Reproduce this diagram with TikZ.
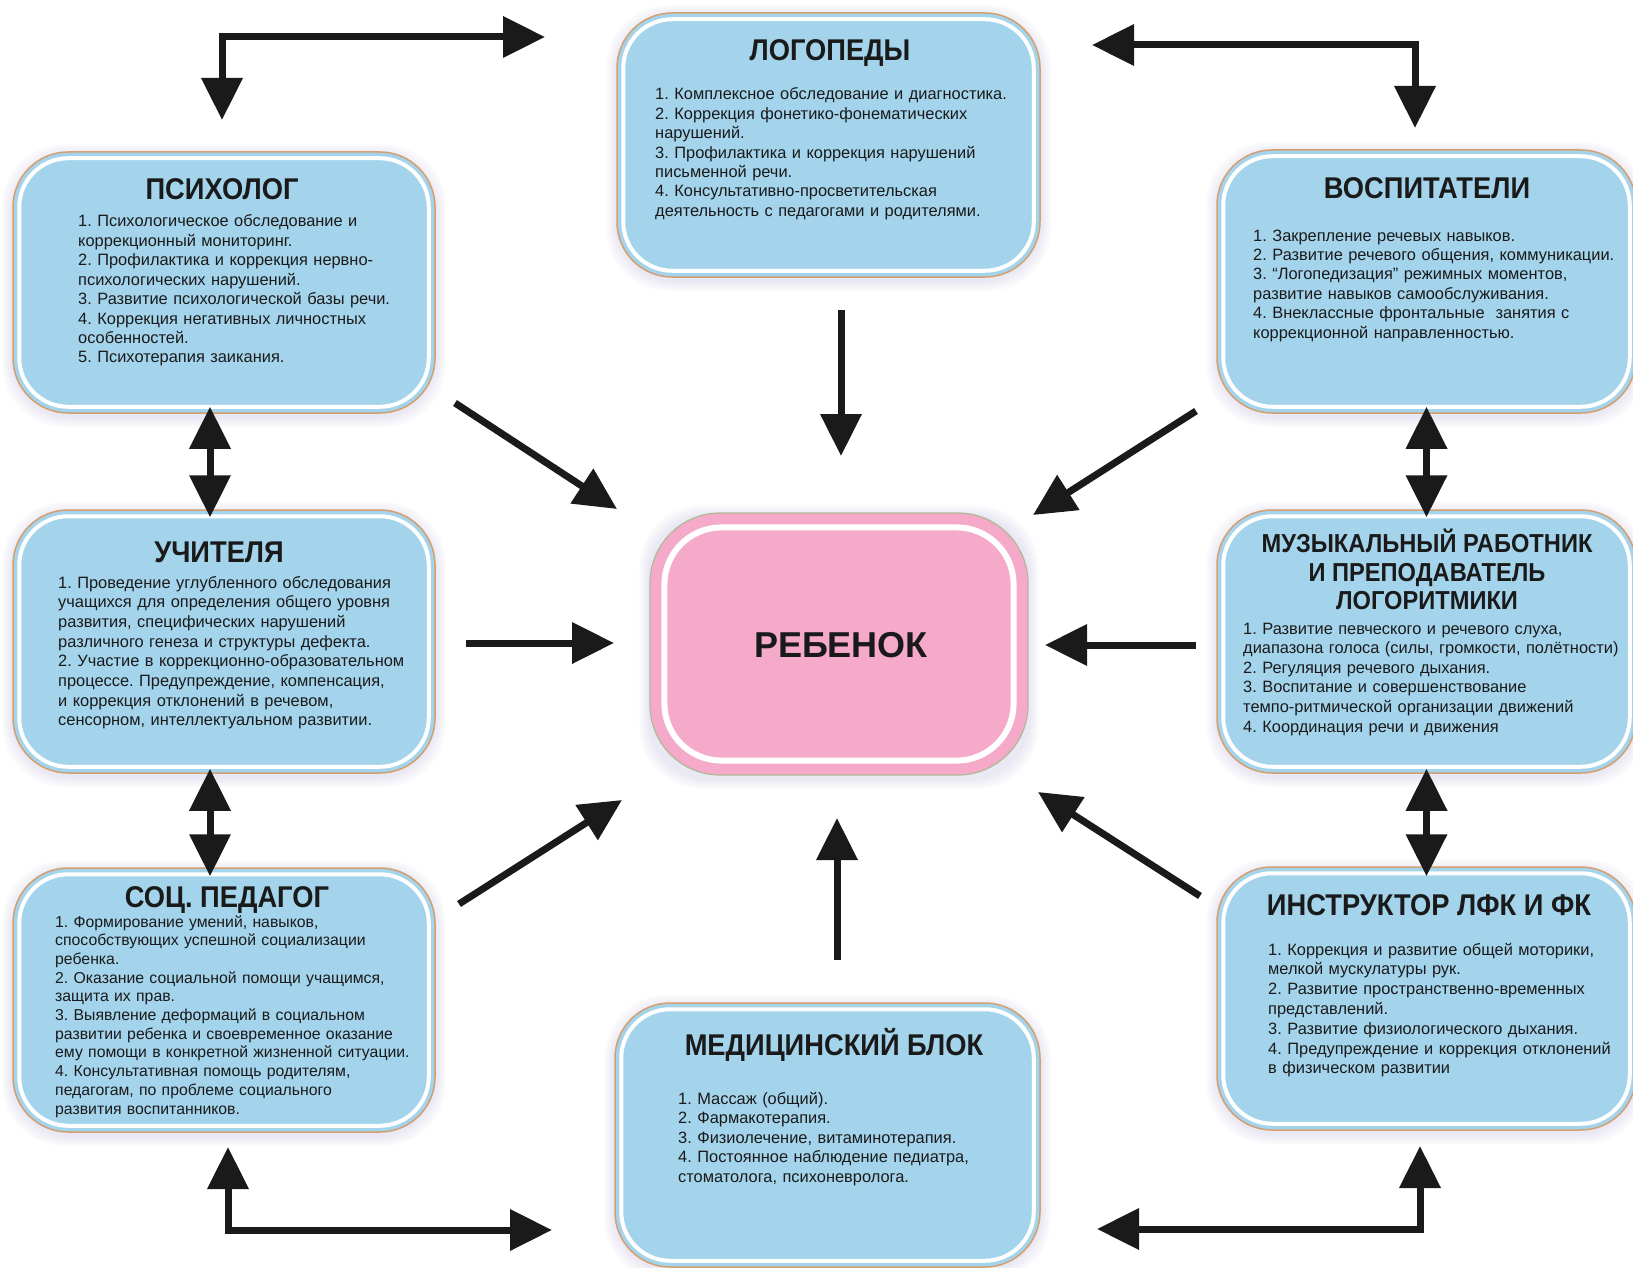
\documentclass[tikz,border=0pt]{standalone}
\usepackage{fontspec}
\setmainfont{Liberation Sans}
\newfontfamily\titlefont[FakeStretch=0.91]{Liberation Sans}
\usetikzlibrary{arrows.meta}
\pgfdeclarelayer{bg}
\pgfsetlayers{bg,main}
\frenchspacing
\definecolor{boxblue}{RGB}{164,212,236}
\definecolor{boxedge}{RGB}{212,160,112}
\definecolor{kidpink}{RGB}{244,170,200}
\definecolor{kidedge}{RGB}{175,185,150}
\definecolor{glowc}{RGB}{185,180,215}
\definecolor{ink}{RGB}{26,26,26}
\tikzset{
 bluebox/.style={draw=boxedge, line width=1.5pt, fill=boxblue, rounded corners=55pt, inner sep=0pt},
 innerline/.style={draw=white, line width=4pt, rounded corners=49pt},
 kidbox/.style={draw=kidedge, line width=1.2pt, fill=kidpink, rounded corners=70pt, inner sep=0pt},
 kidline/.style={draw=white, line width=6pt, rounded corners=57pt},
 ttl/.style={font=\titlefont\bfseries\fontsize{30}{30}\selectfont, text=ink, anchor=base, inner sep=0pt},
 mttl/.style={font=\titlefont\bfseries\fontsize{26}{26}\selectfont, text=ink, anchor=base, inner sep=0pt},
 body/.style={font=\fontsize{16.4}{19.4}\selectfont, text=ink, anchor=base west, inner sep=0pt, text width=480pt, align=left},
 arr/.style={draw=ink, line width=7pt, -{Triangle[length=42pt,width=40pt]}},
 dbl/.style={draw=ink, line width=7pt, line join=miter, {Triangle[length=42pt,width=40pt]}-{Triangle[length=42pt,width=40pt]}},
}
\begin{document}
\begin{tikzpicture}[x=1pt,y=-1pt]
\useasboundingbox (0,0) rectangle (1633,1268);
% boxes
\node[bluebox, minimum width=422pt, minimum height=261pt] (psy) at (224,282.5) {};
\node[bluebox, minimum width=423pt, minimum height=264pt] (logo) at (828.5,145) {};
\node[bluebox, minimum width=419pt, minimum height=263pt] (vosp) at (1426.5,281.5) {};
\node[bluebox, minimum width=422pt, minimum height=263pt] (tch) at (224,641.5) {};
\node[bluebox, minimum width=419pt, minimum height=263pt] (muz) at (1426.5,641.5) {};
\node[bluebox, minimum width=422pt, minimum height=264pt] (soc) at (224,1000) {};
\node[bluebox, minimum width=425pt, minimum height=264pt] (med) at (827.5,1135) {};
\node[bluebox, minimum width=419pt, minimum height=263pt] (ins) at (1426.5,998.5) {};
\node[kidbox, minimum width=378pt, minimum height=262pt] (kid) at (839,644) {};
% glow behind
\begin{pgfonlayer}{bg}
\fill[white] (0,0) rectangle (1633,1268);
\foreach \n in {psy,logo,vosp,tch,muz,soc,med,ins,kid}{
  \foreach \d in {2,4,6,8,10}{
    \fill[glowc, opacity=0.06, rounded corners=62pt] ([shift={(-\d,-\d+3)}]\n.north west) rectangle ([shift={(\d,\d+3)}]\n.south east);
  }
}
\end{pgfonlayer}
% inner white lines
\foreach \n in {psy,logo,vosp,tch,muz,soc,med,ins}{
  \draw[innerline] ([shift={(7,7)}]\n.north west) rectangle ([shift={(-7,-7)}]\n.south east);
}
\draw[kidline] ([shift={(15,15)}]kid.north west) rectangle ([shift={(-15,-15)}]kid.south east);
% texts
\node[ttl] (psyT) at (222,200) {ПСИХОЛОГ};
\node[body] (psyB) at (78,227) {1. Психологическое обследование и\\
коррекционный мониторинг.\\
2. Профилактика и коррекция нервно-\\
психологических нарушений.\\
3. Развитие психологической базы речи.\\
4. Коррекция негативных личностных\\
особенностей.\\
5. Психотерапия заикания.};
\node[ttl] (logoT) at (830,61) {ЛОГОПЕДЫ};
\node[body] (logoB) at (655,100) {1. Комплексное обследование и диагностика.\\
2. Коррекция фонетико-фонематических\\
нарушений.\\
3. Профилактика и коррекция нарушений\\
письменной речи.\\
4. Консультативно-просветительская\\
деятельность с педагогами и родителями.};
\node[ttl] (vospT) at (1427,199) {ВОСПИТАТЕЛИ};
\node[body] (vospB) at (1253,241) {1. Закрепление речевых навыков.\\
2. Развитие речевого общения, коммуникации.\\
3. “Логопедизация” режимных моментов,\\
развитие навыков самообслуживания.\\
4. Внеклассные фронтальные\ \ занятия с\\
коррекционной направленностью.};
\node[ttl] (tchT) at (219,562) {УЧИТЕЛЯ};
\node[body, font=\fontsize{16.4}{19.7}\selectfont] (tchB) at (58,588) {1. Проведение углубленного обследования\\
учащихся для определения общего уровня\\
развития, специфических нарушений\\
различного генеза и структуры дефекта.\\
2. Участие в коррекционно-образовательном\\
процессе. Предупреждение, компенсация,\\
и коррекция отклонений в речевом,\\
сенсорном, интеллектуальном развитии.};
\node[mttl] (muzT1) at (1427,552) {МУЗЫКАЛЬНЫЙ РАБОТНИК};
\node[mttl] (muzT2) at (1427,581) {И ПРЕПОДАВАТЕЛЬ};
\node[mttl] (muzT3) at (1427,609) {ЛОГОРИТМИКИ};
\node[body, font=\fontsize{16.4}{19.6}\selectfont] (muzB) at (1243,634) {1. Развитие певческого и речевого слуха,\\
диапазона голоса (силы, громкости, полётности)\\
2. Регуляция речевого дыхания.\\
3. Воспитание и совершенствование\\
темпо-ритмической организации движений\\
4. Координация речи и движения};
\node[ttl] (socT) at (227,907) {СОЦ. ПЕДАГОГ};
\node[body, font=\fontsize{15.8}{18.7}\selectfont] (socB) at (55,927) {1. Формирование умений, навыков,\\
способствующих успешной социализации\\
ребенка.\\
2. Оказание социальной помощи учащимся,\\
защита их прав.\\
3. Выявление деформаций в социальном\\
развитии ребенка и своевременное оказание\\
ему помощи в конкретной жизненной ситуации.\\
4. Консультативная помощь родителям,\\
педагогам, по проблеме социального\\
развития воспитанников.};
\node[ttl] (medT) at (834,1055) {МЕДИЦИНСКИЙ БЛОК};
\node[body, font=\fontsize{16.4}{19.5}\selectfont] (medB) at (678,1104) {1. Массаж (общий).\\
2. Фармакотерапия.\\
3. Физиолечение, витаминотерапия.\\
4. Постоянное наблюдение педиатра,\\
стоматолога, психоневролога.};
\node[ttl] (insT) at (1429,915) {ИНСТРУКТОР ЛФК И ФК};
\node[body, font=\fontsize{16.4}{19.8}\selectfont] (insB) at (1268,955) {1. Коррекция и развитие общей моторики,\\
мелкой мускулатуры рук.\\
2. Развитие пространственно-временных\\
представлений.\\
3. Развитие физиологического дыхания.\\
4. Предупреждение и коррекция отклонений\\
в физическом развитии};
\node[font=\bfseries\fontsize{36}{36}\selectfont, text=ink, anchor=base, inner sep=0pt] (kidT) at (841,657) {РЕБЕНОК};
% arrow end points
\coordinate (tl1) at (222,120); \coordinate (tl2) at (545,37);
\coordinate (tr1) at (1092,45); \coordinate (tr2) at (1415,128);
\coordinate (bl1) at (228,1147); \coordinate (bl2) at (552,1230);
\coordinate (br1) at (1097,1229); \coordinate (br2) at (1420,1146);
\coordinate (c1s) at (841,310); \coordinate (c1e) at (841,456);
\coordinate (c2s) at (455,403); \coordinate (c2e) at (617,509);
\coordinate (c3s) at (1196,411); \coordinate (c3e) at (1033,515);
\coordinate (c4s) at (466,643); \coordinate (c4e) at (614,643);
\coordinate (c5s) at (1196,645); \coordinate (c5e) at (1045,645);
\coordinate (c6s) at (459,904); \coordinate (c6e) at (622,800);
\coordinate (c7s) at (1200,896); \coordinate (c7e) at (1038,792);
\coordinate (c8s) at (837,960); \coordinate (c8e) at (837,818);
% elbow double arrows
\draw[dbl] (tl1) |- (tl2);
\draw[dbl] (tr1) -| (tr2);
\draw[dbl] (bl1) |- (bl2);
\draw[dbl] (br1) -| (br2);
% vertical double arrows between boxes
\draw[dbl] ([shift={(-14,-7)}]psy.south) -- ([shift={(-14,8)}]tch.north);
\draw[dbl] ([shift={(-14,-5)}]tch.south) -- ([shift={(-14,9)}]soc.north);
\draw[dbl] ([shift={(0,-7)}]vosp.south) -- ([shift={(0,8)}]muz.north);
\draw[dbl] ([shift={(0,-5)}]muz.south) -- ([shift={(0,10)}]ins.north);
% arrows to the child
\foreach \k in {1,...,8}{ \draw[arr] (c\k s) -- (c\k e); }
\end{tikzpicture}
\end{document}
